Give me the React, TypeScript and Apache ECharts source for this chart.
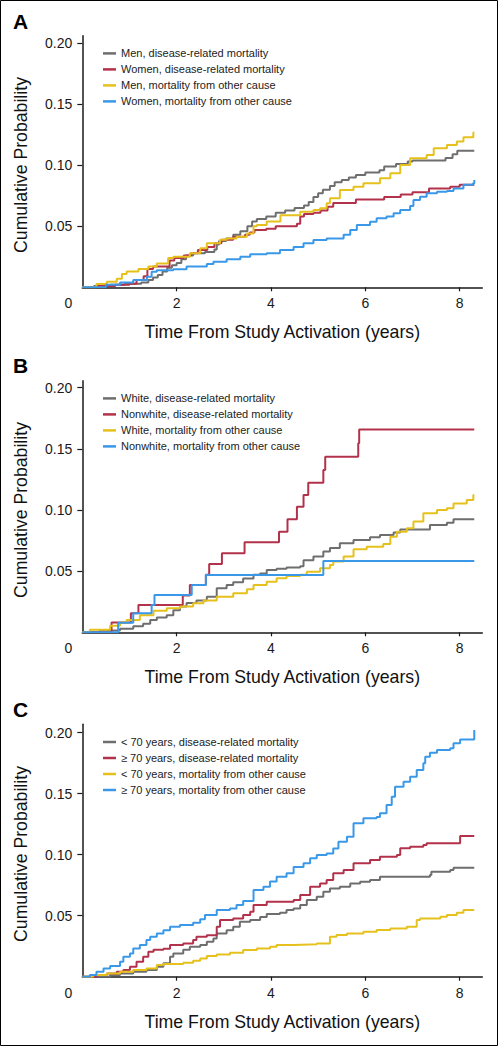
import React, { useEffect, useRef } from "react";
import * as echarts from "echarts";

// ---------- Data ----------
const xTickValues = [2, 4, 6, 8];
const yTickValues = [0.05, 0.1, 0.15, 0.2];
const panelLetters = ["A", "B", "C"];
const xTitle = "Time From Study Activation (years)";
const yTitle = "Cumulative Probability";

// Panel A
const namesA = [
  "Men, disease-related mortality",
  "Women, disease-related mortality",
  "Men, mortality from other cause",
  "Women, mortality from other cause",
];
const menDisease = [[0,0],[0.25,0.001],[0.6,0.002],[0.9,0.003],[1.25,0.004],[1.4,0.006],[1.5,0.008],[1.6,0.010],[1.7,0.013],[1.8,0.016],[1.9,0.018],[2.0,0.020],[2.1,0.023],[2.2,0.026],[2.35,0.028],[2.6,0.029],[2.8,0.031],[2.85,0.035],[2.9,0.038],[3.05,0.040],[3.2,0.043],[3.35,0.046],[3.5,0.050],[3.6,0.054],[3.7,0.056],[3.9,0.058],[4.1,0.061],[4.3,0.063],[4.5,0.065],[4.7,0.067],[4.8,0.070],[4.9,0.074],[5.0,0.077],[5.1,0.080],[5.25,0.083],[5.35,0.086],[5.5,0.088],[5.65,0.090],[5.8,0.092],[6.0,0.094],[6.3,0.096],[6.4,0.099],[6.65,0.101],[6.9,0.103],[7.0,0.104],[7.7,0.106],[7.85,0.109],[7.95,0.112],[8.31,0.112]];
const womenDisease = [[0,0],[0.3,0.001],[0.7,0.002],[1.0,0.003],[1.15,0.006],[1.3,0.009],[1.38,0.015],[1.5,0.017],[1.85,0.022],[1.95,0.024],[2.15,0.026],[2.3,0.028],[2.45,0.0305],[2.65,0.033],[2.8,0.036],[2.95,0.039],[3.2,0.0415],[3.45,0.043],[3.55,0.045],[3.65,0.047],[3.9,0.048],[4.1,0.05],[4.55,0.052],[4.62,0.058],[4.7,0.06],[4.9,0.061],[5.05,0.063],[5.2,0.066],[5.32,0.069],[5.8,0.072],[6.4,0.074],[6.75,0.076],[7.0,0.078],[7.35,0.081],[7.8,0.0825],[8.0,0.084],[8.31,0.084]];
const menOther = [[0,0],[0.3,0.0027],[0.52,0.0046],[0.73,0.007],[0.84,0.011],[0.94,0.013],[1.19,0.015],[1.4,0.017],[1.58,0.0196],[1.82,0.024],[1.93,0.025],[2.28,0.028],[2.5,0.032],[2.64,0.036],[2.92,0.039],[3.06,0.040],[3.27,0.0415],[3.49,0.044],[3.63,0.05],[3.7,0.051],[3.91,0.054],[4.2,0.059],[4.62,0.062],[4.9,0.0634],[5.04,0.0647],[5.18,0.0688],[5.25,0.073],[5.46,0.0797],[5.75,0.0825],[5.96,0.0852],[6.31,0.0893],[6.53,0.0934],[6.74,0.1003],[6.95,0.1057],[7.3,0.1084],[7.45,0.114],[7.73,0.1166],[7.94,0.1194],[8.08,0.123],[8.29,0.1268],[8.31,0.1268]];
const womenOther = [[0,0],[0.5,0.002],[0.8,0.004],[1.08,0.006],[1.37,0.0087],[1.47,0.0128],[1.58,0.014],[1.93,0.0147],[2.21,0.017],[2.64,0.019],[2.78,0.021],[3.06,0.023],[3.35,0.025],[3.56,0.027],[3.91,0.028],[4.19,0.0305],[4.48,0.033],[4.69,0.036],[4.9,0.0388],[5.18,0.040],[5.54,0.043],[5.68,0.047],[5.82,0.051],[6.1,0.0538],[6.24,0.0565],[6.45,0.058],[6.6,0.0606],[6.74,0.0633],[6.95,0.0666],[7.02,0.0715],[7.16,0.0743],[7.3,0.077],[7.52,0.0784],[7.73,0.079],[7.87,0.081],[8.08,0.084],[8.28,0.085],[8.31,0.088]];

// Panel B
const namesB = [
  "White, disease-related mortality",
  "Nonwhite, disease-related mortality",
  "White, mortality from other cause",
  "Nonwhite, mortality from other cause",
];
const whiteDisease = [[0,0],[0.37,0.0015],[0.8,0.003],[1.08,0.005],[1.29,0.007],[1.44,0.01],[1.58,0.012],[1.79,0.014],[1.93,0.018],[2.07,0.021],[2.21,0.024],[2.42,0.026],[2.64,0.029],[2.85,0.036],[3.06,0.0387],[3.2,0.041],[3.41,0.044],[3.63,0.047],[3.77,0.048],[3.91,0.051],[4.12,0.052],[4.33,0.053],[4.62,0.054],[4.69,0.059],[4.9,0.062],[5.11,0.066],[5.25,0.069],[5.46,0.0728],[5.75,0.0755],[6.1,0.0777],[6.31,0.0796],[6.6,0.0815],[6.74,0.084],[7.37,0.0877],[7.73,0.0896],[7.87,0.0924],[8.31,0.0924]];
const nonwhiteDisease = [[0,0],[0.62,0.008],[1.03,0.0155],[1.19,0.0223],[2.13,0.03],[2.28,0.0387],[2.62,0.047],[2.69,0.0559],[2.96,0.0646],[3.44,0.0736],[4.17,0.0823],[4.35,0.0924],[4.55,0.1027],[4.69,0.1123],[4.79,0.1223],[5.11,0.1327],[5.15,0.1436],[5.85,0.1545],[5.87,0.1659],[8.31,0.1659]];
const whiteOther = [[0,0],[0.16,0.002],[0.59,0.0054],[0.8,0.008],[0.94,0.01],[1.22,0.014],[1.51,0.0177],[1.79,0.0196],[2.07,0.021],[2.35,0.0237],[2.57,0.026],[2.85,0.029],[3.2,0.0319],[3.49,0.0351],[3.63,0.0387],[3.91,0.0414],[4.12,0.0441],[4.33,0.046],[4.62,0.047],[4.76,0.0496],[5.04,0.0523],[5.25,0.055],[5.32,0.0578],[5.54,0.0619],[5.75,0.0678],[6.03,0.07],[6.38,0.0722],[6.53,0.0782],[6.67,0.0823],[6.88,0.085],[7.02,0.0905],[7.23,0.0973],[7.52,0.1],[7.73,0.1014],[7.87,0.1054],[8.15,0.1082],[8.29,0.1123],[8.31,0.1123]];
const nonwhiteOther = [[0,0],[0.76,0.0079],[1.08,0.0155],[1.47,0.0223],[1.53,0.0305],[2.32,0.0387],[2.62,0.0469],[5.11,0.0583],[8.31,0.0583]];

// Panel C
const namesC = [
  "< 70 years, disease-related mortality",
  "\u2265 70 years, disease-related mortality",
  "< 70 years, mortality from other cause",
  "\u2265 70 years, mortality from other cause",
];
const youngDisease = [[0,0],[0.59,0.0014],[0.8,0.0027],[1.08,0.004],[1.36,0.0055],[1.58,0.0082],[1.72,0.011],[1.86,0.0164],[1.93,0.019],[2.14,0.022],[2.28,0.0246],[2.5,0.026],[2.64,0.0287],[2.78,0.0314],[2.85,0.0355],[3.06,0.038],[3.2,0.041],[3.34,0.045],[3.56,0.0464],[3.77,0.049],[3.91,0.0514],[4.19,0.0525],[4.33,0.0546],[4.48,0.056],[4.62,0.0587],[4.76,0.0628],[4.97,0.0656],[5.11,0.0697],[5.25,0.0724],[5.46,0.0738],[5.68,0.0765],[5.89,0.0779],[6.1,0.0792],[6.31,0.082],[7.37,0.0833],[7.4,0.086],[7.8,0.0874],[7.87,0.0893],[8.31,0.0893]];
const oldDisease = [[0,0],[0.3,0.0014],[0.52,0.0027],[0.73,0.004],[0.87,0.0055],[1.01,0.0082],[1.15,0.0123],[1.29,0.0164],[1.4,0.0205],[1.51,0.022],[1.72,0.023],[1.86,0.026],[2.14,0.0273],[2.35,0.03],[2.42,0.0328],[2.64,0.034],[2.85,0.041],[2.92,0.0464],[3.2,0.0478],[3.41,0.0505],[3.56,0.0533],[3.63,0.0587],[3.91,0.0615],[4.48,0.0628],[4.62,0.0669],[4.83,0.0738],[5.04,0.0765],[5.18,0.0792],[5.32,0.0847],[5.54,0.0874],[5.75,0.0929],[6.1,0.0956],[6.31,0.0984],[6.67,0.0997],[6.74,0.1052],[6.95,0.1066],[7.23,0.1079],[7.3,0.1093],[8.01,0.1153],[8.31,0.1153]];
const youngOther = [[0,0],[0.23,0.0014],[0.52,0.0027],[0.8,0.004],[1.08,0.0055],[1.36,0.0068],[1.58,0.0096],[1.72,0.0104],[2.14,0.0115],[2.35,0.013],[2.5,0.015],[2.64,0.017],[2.85,0.0183],[3.13,0.0197],[3.41,0.0219],[3.7,0.0232],[3.98,0.0246],[4.12,0.026],[4.48,0.0265],[4.97,0.0273],[5.25,0.0328],[5.39,0.0342],[5.61,0.0355],[5.96,0.0369],[6.24,0.0383],[6.53,0.0396],[6.88,0.041],[7.09,0.0464],[7.16,0.0478],[7.59,0.0492],[7.73,0.0505],[7.94,0.0525],[8.08,0.0546],[8.31,0.0546]];
const oldOther = [[0,0],[0.16,0.0014],[0.3,0.004],[0.45,0.0068],[0.59,0.0087],[0.8,0.0123],[0.87,0.0164],[1.01,0.019],[1.08,0.0232],[1.22,0.026],[1.36,0.03],[1.44,0.0328],[1.58,0.0355],[1.72,0.038],[1.86,0.041],[2.07,0.0423],[2.35,0.0443],[2.5,0.047],[2.6,0.0505],[2.85,0.0546],[3.13,0.056],[3.27,0.0587],[3.41,0.062],[3.63,0.071],[3.84,0.0738],[3.98,0.078],[4.12,0.082],[4.33,0.0847],[4.48,0.09],[4.69,0.0929],[4.83,0.097],[4.97,0.0997],[5.18,0.101],[5.32,0.105],[5.43,0.1107],[5.61,0.1148],[5.75,0.1257],[5.96,0.1298],[6.24,0.131],[6.31,0.1339],[6.45,0.1407],[6.56,0.1475],[6.63,0.1557],[6.81,0.1598],[6.95,0.164],[7.09,0.1694],[7.23,0.1749],[7.27,0.1803],[7.37,0.1836],[7.52,0.1858],[7.8,0.1872],[7.87,0.1913],[8.01,0.1945],[8.28,0.1945],[8.31,0.2022]];

// ---------- Styles ----------
const colors = ["#6e6e6e", "#b3324b", "#e6c11d", "#3a98e8"];
const sans = '"Liberation Sans", Arial, Helvetica, sans-serif';

const panels = [
  { names: namesA, data: [menDisease, womenDisease, menOther, womenOther], top: 35.7, height: 251.6, yMax: 0.2062, letterY: 22 },
  { names: namesB, data: [whiteDisease, nonwhiteDisease, whiteOther, nonwhiteOther], top: 380.7, height: 251.6, yMax: 0.2057, letterY: 366 },
  { names: namesC, data: [youngDisease, oldDisease, youngOther, oldOther], top: 724.3, height: 252.4, yMax: 0.2069, letterY: 710 },
];

export default function App() {
  const ref = useRef<HTMLDivElement>(null);
  useEffect(() => {
    if (!ref.current) return;
    const chart = echarts.init(ref.current, undefined, { renderer: "svg" });
    const axisLine = { show: true, lineStyle: { color: "#1a1a1a", width: 1.5 } };
    const grid: any[] = [];
    const xAxis: any[] = [];
    const yAxis: any[] = [];
    const legend: any[] = [];
    const series: any[] = [];
    const graphic: any[] = [
      { type: "rect", shape: { x: 0.5, y: 0.5, width: 497, height: 1045 }, style: { fill: "none", stroke: "#000", lineWidth: 1 }, silent: true },
    ];
    panels.forEach((p, i) => {
      grid.push({ left: 82.3, top: p.top, width: 400, height: p.height });
      xAxis.push({
        type: "value", gridIndex: i, min: 0, max: 8.48, interval: 2,
        axisLine, splitLine: { show: false },
        axisTick: { show: true, length: 4, inside: false, lineStyle: { color: "#1a1a1a", width: 1.2 }, customValues: xTickValues },
        axisLabel: { customValues: xTickValues, margin: 9, color: "#1a1a1a", fontSize: 14, fontFamily: sans,
          formatter: (v: number) => (xTickValues.includes(v) ? String(v) : "") },
        name: xTitle, nameLocation: "middle", nameGap: 36,
        nameTextStyle: { fontSize: 17.7, fontFamily: sans, color: "#111" },
      });
      yAxis.push({
        type: "value", gridIndex: i, min: 0, max: p.yMax, interval: 0.05,
        axisLine, splitLine: { show: false },
        axisTick: { show: true, length: 5, lineStyle: { color: "#1a1a1a", width: 1.2 }, customValues: yTickValues },
        axisLabel: { customValues: [0, ...yTickValues], margin: 10, color: "#1a1a1a", fontSize: 14, fontFamily: sans,
          formatter: (v: number) => {
            if (Math.abs(v) < 1e-9) return "{z|0}";
            const ok = yTickValues.some((t) => Math.abs(t - v) < 1e-9);
            return ok ? v.toFixed(2) : "";
          },
          rich: { z: { fontSize: 14, fontFamily: sans, color: "#1a1a1a", padding: [32, 0, 0, 0] } } },
        name: yTitle, nameLocation: "middle", nameGap: 52, nameRotate: 90,
        nameTextStyle: { fontSize: 17.7, fontFamily: sans, color: "#111", padding: [0, 7, 0, 0] },
      });
      legend.push({
        orient: "vertical", left: 103, top: p.top + 9.7, padding: 0, itemWidth: 13, itemHeight: 2.5, itemGap: 0,
        icon: "rect", data: p.names,
        textStyle: { fontSize: 11, fontFamily: sans, color: "#222", lineHeight: 16 },
        selectedMode: false,
      });
      p.data.forEach((d, k) => {
        series.push({
          name: p.names[k], type: "line", xAxisIndex: i, yAxisIndex: i, step: "end",
          data: d, showSymbol: false, symbol: "none",
          lineStyle: { color: colors[k], width: 2 }, itemStyle: { color: colors[k] },
          z: 2 + k,
        });
      });
      graphic.push({
        type: "text", left: 13, top: p.letterY - 11,
        style: { text: panelLetters[i], font: 'bold 21px "Liberation Sans", Arial, sans-serif', fill: "#000" },
      });
    });
    chart.setOption({ animation: false, backgroundColor: "#fff", grid, xAxis, yAxis, legend, series, graphic });
    return () => chart.dispose();
  }, []);
  return <div ref={ref} style={{ position: "absolute", left: 0, top: 0, width: 498, height: 1046 }} />;
}
